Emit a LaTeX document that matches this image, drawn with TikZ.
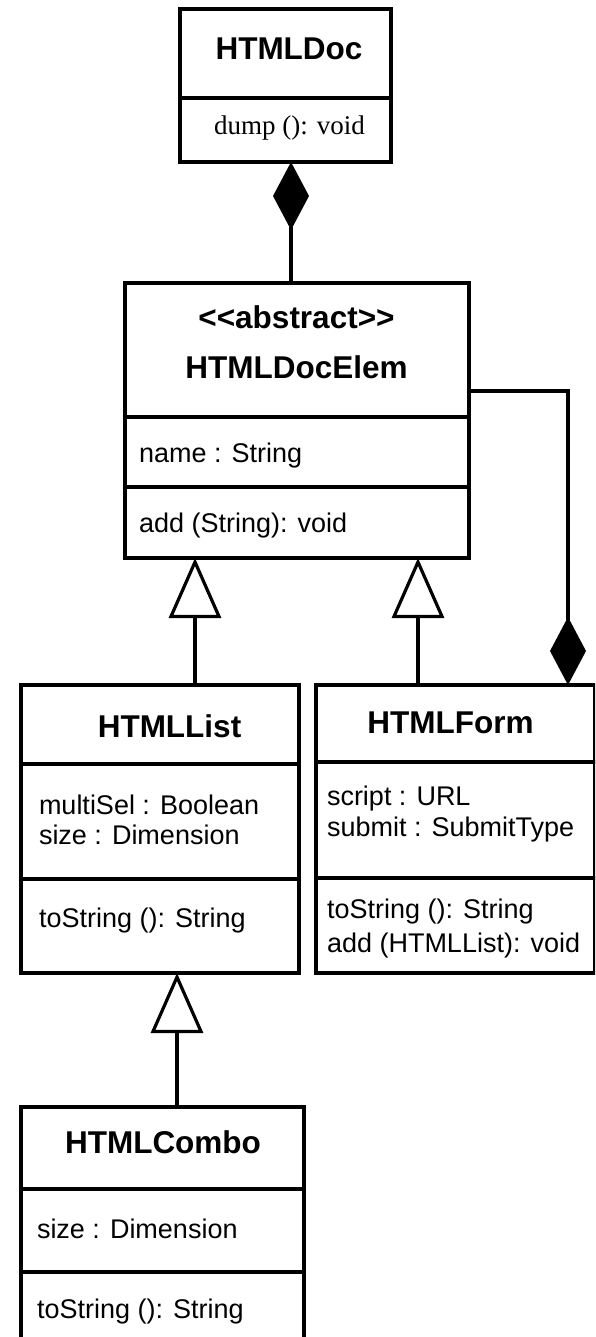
\documentclass[tikz,border=0pt]{standalone}
\usepackage{fontspec}
\setmainfont{Liberation Sans}
\newfontfamily\serifface{Liberation Serif}
\usetikzlibrary{arrows.meta}
\tikzset{
  cell/.style={draw=black, line width=3.2pt, fill=white, inner sep=0pt, outer sep=0pt, anchor=north west},
  lbl/.style={inner sep=0pt, outer sep=0pt, anchor=base west, font=\fontsize{27}{30}\selectfont},
  ttl/.style={inner sep=0pt, outer sep=0pt, anchor=base, font=\fontsize{31.5}{34}\selectfont\bfseries},
  conn/.style={line width=3.2pt},
  gen/.style={conn, -{Triangle[length=60pt, width=52pt, fill=white]}},
  compo/.style={conn, -{Diamond[length=68pt, width=36pt, fill=black]}}
}
\begin{document}
\begin{tikzpicture}[x=1pt,y=-1pt]
\useasboundingbox (0,0) rectangle (595,1337);
\clip (0,0) rectangle (595,1337);
% HTMLDoc
\node[cell, minimum width=211pt, minimum height=89pt] (doct) at (180,9) {};
\node[cell, minimum width=211pt, minimum height=64pt] (doco) at (180,98) {};
\node[ttl] (docn) at (289,60) {HTMLDoc};
\node[lbl, anchor=base, font=\fontsize{27}{30}\selectfont\serifface] (docm) at (289.5,135) {dump (): void};
% HTMLDocElem
\node[cell, minimum width=344pt, minimum height=134pt] (elemt) at (125,283) {};
\node[cell, minimum width=344pt, minimum height=70pt] (elema) at (125,417) {};
\node[cell, minimum width=344pt, minimum height=71pt] (elemo) at (125,487) {};
\node[ttl] (elems) at (296.5,328) {<{}<abstract>{}>};
\node[ttl] (elemn) at (296.5,378) {HTMLDocElem};
\node[lbl] (elemat) at (139,462) {name : String};
\node[lbl] (elemop) at (139,532) {add (String): void};
% HTMLList
\node[cell, minimum width=278pt, minimum height=79pt] (listt) at (21,685) {};
\node[cell, minimum width=278pt, minimum height=115pt] (lista) at (21,764) {};
\node[cell, minimum width=278pt, minimum height=94pt] (listo) at (21,879) {};
\node[ttl] (listn) at (169.5,737) {HTMLList};
\node[lbl] (lista1) at (39,814) {multiSel : Boolean};
\node[lbl] (lista2) at (39,844) {size : Dimension};
\node[lbl] (listo1) at (39,927) {toString (): String};
% HTMLForm
\node[cell, minimum width=279pt, minimum height=77pt] (formt) at (316,685) {};
\node[cell, minimum width=279pt, minimum height=116pt] (forma) at (316,762) {};
\node[cell, minimum width=279pt, minimum height=95pt] (formo) at (316,878) {};
\node[ttl] (formn) at (450.6,733) {HTMLForm};
\node[lbl] (forma1) at (327,805) {script : URL};
\node[lbl] (forma2) at (327,836) {submit : SubmitType};
\node[lbl] (formo1) at (327,918) {toString (): String};
\node[lbl] (formo2) at (327,952) {add (HTMLList): void};
% HTMLCombo
\node[cell, minimum width=283pt, minimum height=82pt] (combt) at (21,1107) {};
\node[cell, minimum width=283pt, minimum height=83pt] (comba) at (21,1189) {};
\node[cell, minimum width=283pt, minimum height=110pt] (combo) at (21,1272) {};
\node[ttl] (combn) at (163,1153) {HTMLCombo};
\node[lbl] (comba1) at (37,1238) {size : Dimension};
\node[lbl] (combo1) at (37,1318) {toString (): String};
% connector positions
\coordinate (xa) at (291,0);
\coordinate (xb) at (195,0);
\coordinate (xc) at (418,0);
\coordinate (xd) at (177,0);
\coordinate (xe) at (568,0);
\coordinate (ya) at (0,391);
% connectors
\draw[compo] (elemt.north -| xa) -- (doco.south -| xa);
\draw[gen] (listt.north -| xb) -- (elemo.south -| xb);
\draw[gen] (formt.north -| xc) -- (elemo.south -| xc);
\draw[gen] (combt.north -| xd) -- (listo.south -| xd);
\draw[compo] (elemt.east |- ya) -| (formt.north -| xe);
\end{tikzpicture}
\end{document}
